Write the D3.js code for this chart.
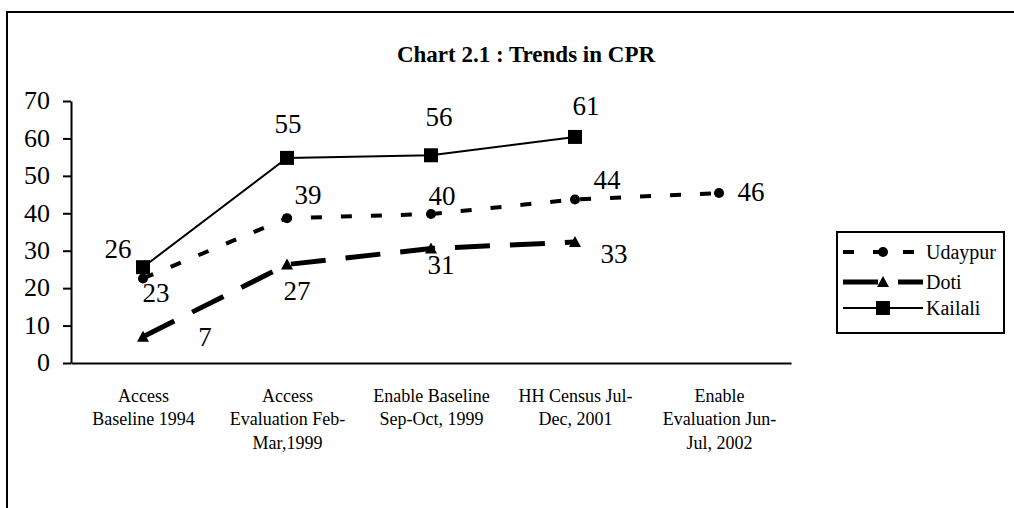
<!DOCTYPE html>
<html>
<head>
<meta charset="utf-8">
<script src="https://cdn.jsdelivr.net/npm/d3@7"></script>
<style>
  body { margin: 0; background: #fff; }
  #chart { position: relative; width: 1014px; height: 508px; }
  #chart svg { position: absolute; left: 0; top: 0; }
  .lbl { position: absolute; white-space: nowrap; line-height: 1; color: #000; }
</style>
</head>
<body>
<div id="chart"></div>
<script>
// data
const categories = ["c1", "c2", "c3", "c4", "c5"];
const categoryLines = [
  ["Access", "Baseline 1994"],
  ["Access", "Evaluation Feb-", "Mar,1999"],
  ["Enable Baseline", "Sep-Oct, 1999"],
  ["HH Census Jul-", "Dec, 2001"],
  ["Enable", "Evaluation Jun-", "Jul, 2002"]
];
const udaypur = [22.6, 38.7, 39.8, 43.7, 45.4];
const doti = [7.0, 26.3, 30.6, 32.3];
const kailali = [25.6, 54.8, 55.5, 60.4];
const udaypurLabels = ["23", "39", "40", "44", "46"];
const dotiLabels = ["7", "27", "31", "33"];
const kailaliLabels = ["26", "55", "56", "61"];
const yTicks = [0, 10, 20, 30, 40, 50, 60, 70];

// label placement (dx, dy from point to label centre)
const udaypurOffsets = [[13, 15], [21, -23], [11, -17], [32, -19], [32, 0]];
const dotiOffsets = [[62, 1], [10, 27], [10, 17], [39, 13]];
const kailaliOffsets = [[-25, -18], [1, -33], [8, -38], [11, -30]];

const SERIF = "'Liberation Serif', 'Times New Roman', serif";

const W = 1014, H = 508;
const margin = {top: 101, right: 223, bottom: 145, left: 71},
    width = W - margin.left - margin.right,
    height = H - margin.top - margin.bottom;

const chart = d3.select("#chart");

// big serif text goes into html divs, (x, baseline y) in page pixels
function htmlText(txt, px, py, size, anchor) {
  const boxW = 120;
  const left = anchor === "middle" ? px - boxW / 2 : anchor === "end" ? px - boxW : px;
  chart.append("div")
    .attr("class", "lbl")
    .style("font-family", "'Liberation Serif'")
    .style("left", left + "px")
    .style("top", (py - 0.8375 * size) + "px")
    .style("width", boxW + "px")
    .style("text-align", anchor === "middle" ? "center" : anchor === "end" ? "right" : "left")
    .style("font-size", size + "px")
    .text(txt);
}

const svg = chart
  .append("svg")
    .attr("width", W)
    .attr("height", H)
    .attr("font-family", SERIF);

// outer frame, runs off the right and bottom
svg.append("rect")
  .attr("x", 7).attr("y", 12)
  .attr("width", 1100).attr("height", 600)
  .attr("fill", "none").attr("stroke", "#000").attr("stroke-width", 2);

svg.append("text")
  .attr("x", 526).attr("y", 62)
  .attr("text-anchor", "middle")
  .attr("font-weight", "bold")
  .attr("font-size", 23)
  .text("Chart 2.1 : Trends in CPR");

const g = svg.append("g")
  .attr("transform", `translate(${margin.left},${margin.top})`);

const x = d3.scalePoint()
  .domain(categories)
  .range([0, width])
  .padding(0.5);

const y = d3.scaleLinear()
  .domain([0, 70])
  .range([height, 0]);

// Y axis
const yAxis = g.append("g")
  .call(d3.axisLeft(y).tickValues(yTicks).tickSize(8).tickSizeOuter(0).tickFormat(""));
yAxis.selectAll("path, line").attr("stroke", "#000").attr("stroke-width", 2);
yAxis.selectAll(".tick text").remove();
yTicks.forEach(t => htmlText(String(t), margin.left - 21, margin.top + y(t) + 9, 26, "end"));

// X axis
const xAxis = g.append("g")
  .attr("transform", `translate(0,${height})`)
  .call(d3.axisBottom(x).tickSize(0).tickSizeOuter(0).tickFormat(""));
xAxis.select("path").attr("stroke", "#000").attr("stroke-width", 2);

xAxis.selectAll(".tick text").remove();
xAxis.selectAll(".tick")
  .append("text")
    .attr("text-anchor", "middle")
    .attr("font-size", 18)
    .attr("font-family", SERIF)
    .attr("fill", "#000")
    .selectAll("tspan")
    .data((d, i) => categoryLines[i])
    .join("tspan")
      .attr("x", 0)
      .attr("y", (d, i) => 39 + i * 23.3)
      .text(d => d);

const line = d3.line()
  .x((d, i) => x(categories[i]))
  .y(d => y(d));

const series = [
  {name: "Udaypur", values: udaypur, labels: udaypurLabels, offsets: udaypurOffsets,
   width: 4, dash: "11,19", marker: "circle"},
  {name: "Doti", values: doti, labels: dotiLabels, offsets: dotiOffsets,
   width: 5, dash: "35,20", marker: "triangle"},
  {name: "Kailali", values: kailali, labels: kailaliLabels, offsets: kailaliOffsets,
   width: 2, dash: null, marker: "square"}
];

function drawMarker(sel, type) {
  if (type === "circle") {
    sel.append("circle").attr("r", 5).attr("fill", "#000");
  } else if (type === "triangle") {
    sel.append("path").attr("d", "M0,-6L6,5L-6,5Z").attr("fill", "#000");
  } else {
    sel.append("rect").attr("x", -7).attr("y", -7).attr("width", 14).attr("height", 14).attr("fill", "#000");
  }
}

for (const s of series) {
  g.append("path")
    .datum(s.values)
    .attr("fill", "none")
    .attr("stroke", "#000")
    .attr("stroke-width", s.width)
    .attr("stroke-dasharray", s.dash)
    .attr("d", line);

  g.append("g")
    .selectAll("g")
    .data(s.values)
    .join("g")
      .attr("transform", (d, i) => `translate(${x(categories[i])},${y(d)})`)
      .each(function() { drawMarker(d3.select(this), s.marker); });

  s.values.forEach((v, i) => {
    htmlText(s.labels[i],
      margin.left + x(categories[i]) + s.offsets[i][0],
      margin.top + y(v) + s.offsets[i][1] + 9,
      27, "middle");
  });
}

// legend
const legend = svg.append("g");
legend.append("rect")
  .attr("x", 837).attr("y", 232)
  .attr("width", 167).attr("height", 101)
  .attr("fill", "#fff").attr("stroke", "#000").attr("stroke-width", 2);

const legendY = [252, 282, 308];
series.forEach((s, i) => {
  const row = legend.append("g").attr("transform", `translate(0,${legendY[i]})`);
  row.append("line")
    .attr("x1", 843).attr("x2", 923)
    .attr("stroke", "#000")
    .attr("stroke-width", s.width)
    .attr("stroke-dasharray", s.dash);
  drawMarker(row.append("g").attr("transform", "translate(883,0)"), s.marker);
  htmlText(s.name, 926, legendY[i] + 7, 20, "start");
});
</script>
</body>
</html>
